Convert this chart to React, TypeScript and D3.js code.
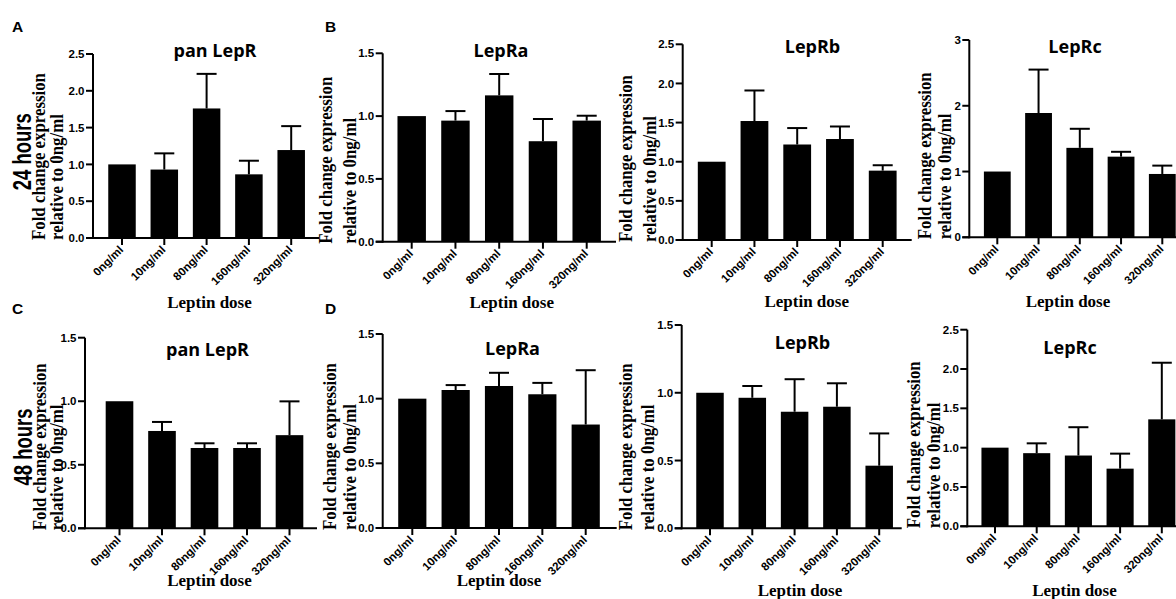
import React from "react";
import * as d3 from "d3";

const doses = ["0ng/ml", "10ng/ml", "80ng/ml", "160ng/ml", "320ng/ml"];

// 24 hours
const panLepR24 = [1.0, 0.93, 1.76, 0.865, 1.195];
const panLepR24Err = [0, 0.22, 0.47, 0.185, 0.325];
const lepRa24 = [1.0, 0.964, 1.165, 0.8, 0.964];
const lepRa24Err = [0, 0.076, 0.17, 0.177, 0.039];
const lepRb24 = [1.0, 1.52, 1.22, 1.29, 0.886];
const lepRb24Err = [0, 0.39, 0.21, 0.16, 0.069];
const lepRc24 = [1.0, 1.89, 1.36, 1.226, 0.963];
const lepRc24Err = [0, 0.66, 0.29, 0.074, 0.127];

// 48 hours
const panLepR48 = [1.0, 0.766, 0.632, 0.632, 0.733];
const panLepR48Err = [0, 0.071, 0.037, 0.037, 0.266];
const lepRa48 = [1.0, 1.067, 1.098, 1.034, 0.8];
const lepRa48Err = [0, 0.038, 0.102, 0.088, 0.42];
const lepRb48 = [1.0, 0.963, 0.86, 0.897, 0.462];
const lepRb48Err = [0, 0.087, 0.24, 0.173, 0.238];
const lepRc48 = [1.0, 0.93, 0.9, 0.733, 1.36];
const lepRc48Err = [0, 0.125, 0.36, 0.191, 0.72];

const ticks15 = [0, 0.5, 1.0, 1.5];
const ticks25 = [0, 0.5, 1.0, 1.5, 2.0, 2.5];
const ticks3 = [0, 1, 2, 3];

const SERIF = "'Liberation Serif', 'Times New Roman', serif";
const SANS = "'Liberation Sans', Arial, sans-serif";
const TITLE = "'Open Sans', sans-serif";

type Panel = {
  title: string;
  values: number[];
  errors: number[];
  ticks: number[];
  fmt: string;
  axisX: number;
  y0: number;
  yTop: number;
  x0: number;
  step: number;
  xEnd: number;
  titleX: number;
  titleY: number;
  xlabX: number;
  xlabY: number;
  l1: number;
  l2: number;
};

const panels: Panel[] = [
  { title: "pan LepR", values: panLepR24, errors: panLepR24Err, ticks: ticks25, fmt: ".1f",
    axisX: 93, y0: 238, yTop: 54, x0: 122, step: 42.3, xEnd: 319,
    titleX: 215, titleY: 57, xlabX: 209.5, xlabY: 308, l1: 48, l2: 30 },
  { title: "LepRa", values: lepRa24, errors: lepRa24Err, ticks: ticks15, fmt: ".1f",
    axisX: 382.7, y0: 241.7, yTop: 53.3, x0: 411.7, step: 43.75, xEnd: 616,
    titleX: 501, titleY: 56.7, xlabX: 511.7, xlabY: 308, l1: 50.5, l2: 27 },
  { title: "LepRb", values: lepRb24, errors: lepRb24Err, ticks: ticks25, fmt: ".1f",
    axisX: 682.7, y0: 240, yTop: 44.3, x0: 711.7, step: 42.75, xEnd: 911.7,
    titleX: 812.5, titleY: 52.7, xlabX: 806.7, xlabY: 307, l1: 50.5, l2: 27 },
  { title: "LepRc", values: lepRc24, errors: lepRc24Err, ticks: ticks3, fmt: "d",
    axisX: 969.3, y0: 237.3, yTop: 40, x0: 997.3, step: 41.25, xEnd: 1190,
    titleX: 1075, titleY: 52.7, xlabX: 1068, xlabY: 307, l1: 38.5, l2: 18.5 },
  { title: "pan LepR", values: panLepR48, errors: panLepR48Err, ticks: ticks15, fmt: ".1f",
    axisX: 85, y0: 528.3, yTop: 337.7, x0: 119.5, step: 42.5, xEnd: 317,
    titleX: 207.5, titleY: 355.7, xlabX: 209.5, xlabY: 586, l1: 39.5, l2: 22 },
  { title: "LepRa", values: lepRa48, errors: lepRa48Err, ticks: ticks15, fmt: ".1f",
    axisX: 382.7, y0: 528, yTop: 334, x0: 412.3, step: 43.35, xEnd: 616.7,
    titleX: 512.5, titleY: 355, xlabX: 499, xlabY: 586, l1: 47, l2: 26.5 },
  { title: "LepRb", values: lepRb48, errors: lepRb48Err, ticks: ticks15, fmt: ".1f",
    axisX: 681.7, y0: 528.3, yTop: 325, x0: 710, step: 42.3, xEnd: 901.7,
    titleX: 802.5, titleY: 349, xlabX: 800, xlabY: 596, l1: 49.5, l2: 27.5 },
  { title: "LepRc", values: lepRc48, errors: lepRc48Err, ticks: ticks25, fmt: ".1f",
    axisX: 967.3, y0: 526.3, yTop: 329.7, x0: 995, step: 41.7, xEnd: 1190,
    titleX: 1070, titleY: 354, xlabX: 1074.5, xlabY: 596, l1: 47.5, l2: 27 },
];

const BarPanel = ({ p }: { p: Panel }) => {
  const tMax = p.ticks[p.ticks.length - 1];
  const y = d3.scaleLinear().domain([0, tMax]).range([p.y0, p.yTop]);
  const start = p.x0 - 0.675 * p.step;
  const x = d3
    .scaleBand()
    .domain(doses)
    .range([start, start + 5.35 * p.step])
    .padding(0.35);
  const bw = x.bandwidth();
  const fmt = d3.format(p.fmt);
  const titleY0 = p.y0 + 2;

  return (
    <g>
      {/* bars */}
      {doses.map((d, i) => (
        <rect
          key={d}
          x={x(d)}
          y={y(p.values[i])}
          width={bw}
          height={p.y0 - y(p.values[i])}
          fill="#000"
        />
      ))}
      {/* error bars (upper only) */}
      {doses.map((d, i) => {
        if (!p.errors[i]) return null;
        const cx = (x(d) as number) + bw / 2;
        const top = y(p.values[i] + p.errors[i]);
        return (
          <g key={d} stroke="#000" strokeWidth={2}>
            <line x1={cx} x2={cx} y1={y(p.values[i])} y2={top} />
            <line x1={cx - 10} x2={cx + 10} y1={top} y2={top} />
          </g>
        );
      })}
      {/* y axis */}
      <line x1={p.axisX} x2={p.axisX} y1={p.y0 + 1} y2={p.yTop} stroke="#000" strokeWidth={2} />
      {p.ticks.map((t) => (
        <g key={t}>
          <line x1={p.axisX - 7} x2={p.axisX} y1={y(t)} y2={y(t)} stroke="#000" strokeWidth={2} />
          <text
            x={p.axisX - 8.5}
            y={y(t)}
            dy="0.36em"
            textAnchor="end"
            fontFamily={SANS}
            fontWeight="bold"
            fontSize={11.5}
          >
            {fmt(t)}
          </text>
        </g>
      ))}
      {/* x axis */}
      <line x1={p.axisX - 7} x2={p.xEnd} y1={p.y0} y2={p.y0} stroke="#000" strokeWidth={2} />
      {doses.map((d) => {
        const cx = (x(d) as number) + bw / 2;
        return (
          <g key={d}>
            <line x1={cx} x2={cx} y1={p.y0} y2={p.y0 + 7} stroke="#000" strokeWidth={2} />
            <text
              transform={`translate(${cx + 2},${p.y0 + 12.5}) rotate(-45)`}
              textAnchor="end"
              fontFamily={SANS}
              fontWeight="bold"
              fontSize={11.5}
            >
              {d}
            </text>
          </g>
        );
      })}
      {/* titles */}
      <text x={p.titleX} y={p.titleY} textAnchor="middle" fontFamily={TITLE} fontWeight="bold" fontSize={18}>
        {p.title}
      </text>
      <text x={p.xlabX} y={p.xlabY} textAnchor="middle" fontFamily={SERIF} fontWeight="bold" fontSize={17}>
        Leptin dose
      </text>
      <text
        transform={`translate(${p.axisX - p.l1},${titleY0}) rotate(-90) scale(0.91,1)`}
        fontFamily={SERIF}
        fontWeight="bold"
        fontSize={18.5}
      >
        Fold change expression
      </text>
      <text
        transform={`translate(${p.axisX - p.l2},${titleY0}) rotate(-90) scale(0.91,1)`}
        fontFamily={SERIF}
        fontWeight="bold"
        fontSize={18.5}
      >
        relative to 0ng/ml
      </text>
    </g>
  );
};

const App = () => {
  return (
    <div style={{ position: "fixed", left: 0, top: 0 }}>
      <svg width={1176} height={599} style={{ display: "block", background: "#fff" }}>
        <rect width={1176} height={599} fill="#fff" />
        {panels.map((p, i) => (
          <BarPanel key={i} p={p} />
        ))}
        {[
          { t: "A", x: 12, y: 32 },
          { t: "B", x: 325, y: 32 },
          { t: "C", x: 12, y: 314 },
          { t: "D", x: 325, y: 314 },
        ].map((l) => (
          <text key={l.t} x={l.x} y={l.y} fontFamily={SANS} fontWeight="bold" fontSize={15.5}>
            {l.t}
          </text>
        ))}
        <text
          transform="translate(31,151.7) rotate(-90) scale(0.74,1)"
          textAnchor="middle"
          fontFamily={SANS}
          fontWeight="bold"
          fontSize={25}
        >
          24 hours
        </text>
        <text
          transform="translate(32,447) rotate(-90) scale(0.74,1)"
          textAnchor="middle"
          fontFamily={SANS}
          fontWeight="bold"
          fontSize={25}
        >
          48 hours
        </text>
      </svg>
    </div>
  );
};

export default App;
